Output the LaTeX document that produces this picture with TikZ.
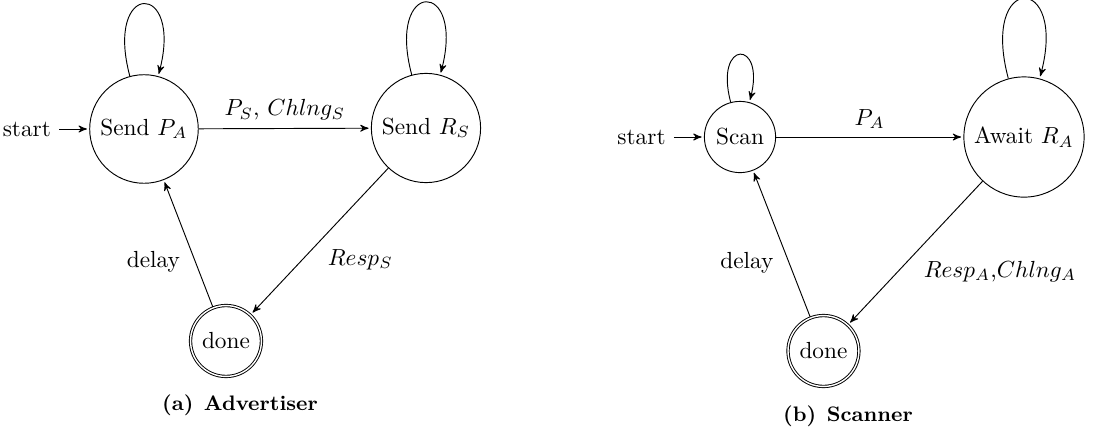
\documentclass[tikz,border=0pt]{standalone}
\usetikzlibrary{automata,arrows,positioning}
\begin{document}
\begin{tikzpicture}[->,>=stealth',shorten >=1pt, auto,
  every state/.style={draw,thin},
  every loop/.style={looseness=9},
  cap node/.style={font=\small\bfseries}]%
\useasboundingbox (0,0) rectangle (16.835,-6.517);
% (a) advertiser
\begin{scope}
\node[state,initial] (ap) at (2.172,-1.946) {Send $P_A$};
\node[state] (ar) at (6.426,-1.931) {Send $R_S$};
\node[state,accepting] (ad) at (3.409,-5.144) {done};
\node[cap node] (acap) at (3.620,-6.109) {(a)\enspace Advertiser};
\end{scope}
\begin{scope}
\draw  (ap) edge node {$P_S$, $Chlng_S$} (ar);
\draw  (ar) edge node {$Resp_S$} (ad);
\draw  (ad) edge node {delay} (ap);
\draw  (ap) edge[loop above] (ap);
\draw  (ar) edge[loop above] (ar);
\end{scope}
% (b) scanner
\begin{scope}
\node[state,initial] (bs) at (11.163,-2.067) {Scan};
\node[state] (bw) at (15.447,-2.067) {Await $R_A$};
\node[state,accepting] (bd) at (12.422,-5.295) {done};
\node[cap node] (bcap) at (12.792,-6.283) {(b)\enspace Scanner};
\end{scope}
\begin{scope}
\draw  (bs) edge node {$P_A$} (bw);
\draw  (bw) edge node {$Resp_A$,$Chlng_A$} (bd);
\draw  (bd) edge node {delay} (bs);
\draw  (bs) edge[loop above] (bs);
\draw  (bw) edge[loop above] (bw);
\end{scope}
\end{tikzpicture}
\end{document}
